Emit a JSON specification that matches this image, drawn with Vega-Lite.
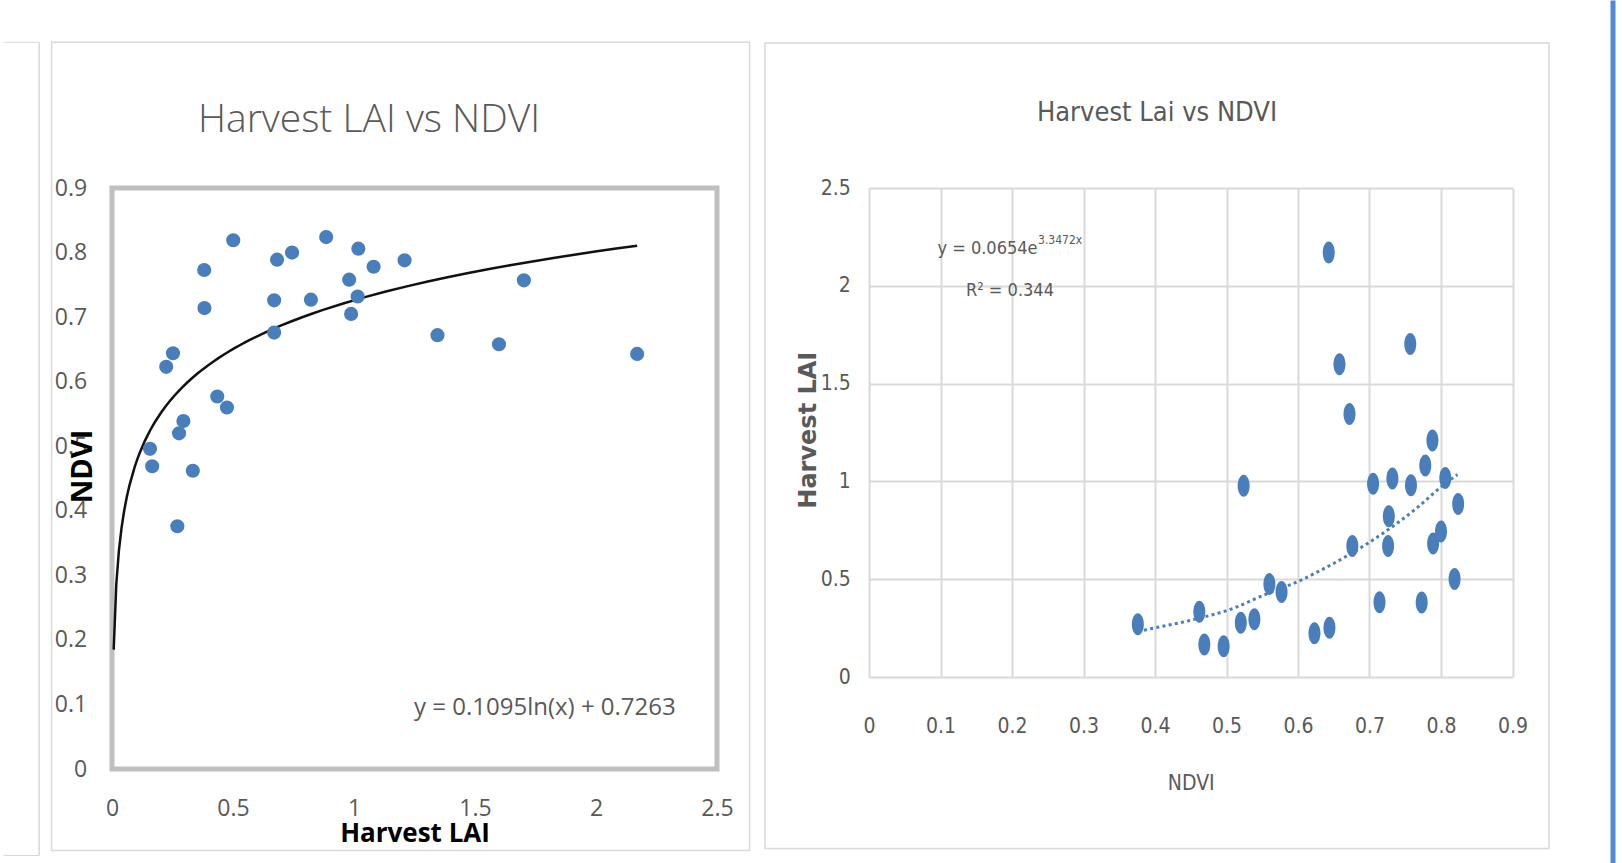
{
  "$schema": "https://vega.github.io/schema/vega-lite/v6.json",
  "background": "white",
  "padding": {"left": 0, "top": 0, "right": 0, "bottom": 0},
  "autosize": {"type": "pad"},
  "bounds": "flush",
  "spacing": 152,
  "config": {"view": {"stroke": null}, "font": "Open Sans"},
  "datasets": {
    "pts": [
      {"LAI": 0.501, "NDVI": 0.819, "left": true},
      {"LAI": 0.885, "NDVI": 0.824, "left": true},
      {"LAI": 1.018, "NDVI": 0.806, "left": true},
      {"LAI": 0.744, "NDVI": 0.800, "left": true},
      {"LAI": 0.682, "NDVI": 0.789, "left": true},
      {"LAI": 1.209, "NDVI": 0.788, "left": true},
      {"LAI": 1.081, "NDVI": 0.778, "left": true},
      {"LAI": 0.381, "NDVI": 0.773, "left": true},
      {"LAI": 0.980, "NDVI": 0.758, "left": true},
      {"LAI": 1.015, "NDVI": 0.732, "left": true},
      {"LAI": 0.670, "NDVI": 0.726, "left": true},
      {"LAI": 0.822, "NDVI": 0.727, "left": true},
      {"LAI": 0.382, "NDVI": 0.714, "left": true},
      {"LAI": 0.988, "NDVI": 0.705, "left": true},
      {"LAI": 0.670, "NDVI": 0.676, "left": true},
      {"LAI": 1.345, "NDVI": 0.672, "left": true},
      {"LAI": 1.599, "NDVI": 0.658, "left": true},
      {"LAI": 1.702, "NDVI": 0.757, "left": true},
      {"LAI": 2.170, "NDVI": 0.643, "left": true},
      {"LAI": 0.252, "NDVI": 0.644, "left": true},
      {"LAI": 0.224, "NDVI": 0.623, "left": true},
      {"LAI": 0.435, "NDVI": 0.577, "left": true},
      {"LAI": 0.475, "NDVI": 0.560, "left": true},
      {"LAI": 0.295, "NDVI": 0.539, "left": true},
      {"LAI": 0.277, "NDVI": 0.520, "left": true},
      {"LAI": 0.157, "NDVI": 0.496, "left": true},
      {"LAI": 0.166, "NDVI": 0.469, "left": true},
      {"LAI": 0.334, "NDVI": 0.462, "left": true},
      {"LAI": 0.270, "NDVI": 0.376, "left": true},
      {"LAI": 0.978, "NDVI": 0.524, "left": false}
    ],
    "expTrend": [
      {"NDVI": 0.376, "LAI": 0.232},
      {"NDVI": 0.383, "LAI": 0.238},
      {"NDVI": 0.4485, "LAI": 0.289},
      {"NDVI": 0.5137, "LAI": 0.357},
      {"NDVI": 0.5464, "LAI": 0.410},
      {"NDVI": 0.607, "LAI": 0.500},
      {"NDVI": 0.6256, "LAI": 0.534},
      {"NDVI": 0.6723, "LAI": 0.627},
      {"NDVI": 0.7189, "LAI": 0.735},
      {"NDVI": 0.7655, "LAI": 0.862},
      {"NDVI": 0.8028, "LAI": 0.980},
      {"NDVI": 0.823, "LAI": 1.035}
    ]
  },
  "hconcat": [
    {
      "width": 605,
      "height": 581,
      "view": {"stroke": "#bfbfbf", "strokeWidth": 5},
      "layer": [
        {
          "data": {"values": [{}]},
          "mark": {"type": "rect", "filled": false, "color": "#d9d9d9", "strokeWidth": 1.5},
          "encoding": {
            "x": {"datum": -0.2496, "type": "quantitative"},
            "x2": {"datum": 2.6347},
            "y": {"datum": 1.1258, "type": "quantitative"},
            "y2": {"datum": -0.1262}
          }
        },
        {
          "data": {"values": [{}]},
          "mark": {"type": "rule", "color": "#d9d9d9", "strokeWidth": 1.5},
          "encoding": {
            "x": {"datum": -0.3008, "type": "quantitative"},
            "y": {"datum": 1.1258, "type": "quantitative"},
            "y2": {"datum": -0.134}
          }
        },
        {
          "data": {"values": [{}]},
          "mark": {"type": "rule", "color": "#d9d9d9", "strokeWidth": 1},
          "encoding": {
            "x": {"datum": -0.44835, "type": "quantitative"},
            "x2": {"datum": -0.3008},
            "y": {"datum": 1.1258, "type": "quantitative"}
          }
        },
        {
          "data": {"values": [{}]},
          "mark": {"type": "rule", "color": "#d9d9d9", "strokeWidth": 1},
          "encoding": {
            "x": {"datum": -0.44835, "type": "quantitative"},
            "x2": {"datum": -0.3008},
            "y": {"datum": -0.134, "type": "quantitative"}
          }
        },
        {
          "data": {"values": [{}]},
          "mark": {"type": "text", "font": "Open Sans", "fontSize": 39, "fontWeight": 300, "color": "#595959", "align": "center", "baseline": "alphabetic"},
          "encoding": {
            "x": {"datum": 1.062, "type": "quantitative"},
            "y": {"datum": 0.9875, "type": "quantitative"},
            "text": {"value": "Harvest LAI vs NDVI"}
          }
        },
        {
          "data": {"values": [{}]},
          "mark": {"type": "text", "font": "Open Sans", "fontSize": 24, "color": "#595959", "align": "left", "baseline": "alphabetic"},
          "encoding": {
            "x": {"datum": 1.248, "type": "quantitative"},
            "y": {"datum": 0.0829, "type": "quantitative"},
            "text": {"value": "y = 0.1095ln(x) + 0.7263"}
          }
        },
        {
          "data": {"name": "pts"},
          "transform": [
            {"filter": "datum.left"},
            {"regression": "NDVI", "on": "LAI", "method": "log", "extent": [0.007, 2.17]}
          ],
          "mark": {"type": "line", "color": "#111111", "strokeWidth": 2.5},
          "encoding": {
            "x": {"field": "LAI", "type": "quantitative"},
            "y": {"field": "NDVI", "type": "quantitative"}
          }
        },
        {
          "data": {"name": "pts"},
          "transform": [{"filter": "datum.left"}],
          "mark": {"type": "circle", "size": 200, "color": "#4a7ebb", "opacity": 1},
          "encoding": {
            "x": {
              "field": "LAI", "type": "quantitative",
              "scale": {"domain": [0, 2.5], "nice": false, "zero": false},
              "axis": {
                "title": "Harvest LAI", "values": [0, 0.5, 1, 1.5, 2, 2.5], "format": "~g",
                "domain": false, "ticks": false, "tickSize": 0, "grid": false,
                "labelFont": "Open Sans", "labelFontSize": 23, "labelColor": "#595959",
                "labelBaseline": "alphabetic", "labelPadding": 46.5, "labelFlush": false, "labelOverlap": false,
                "titleFont": "Open Sans", "titleFontWeight": "bold", "titleFontSize": 26, "titleColor": "#000000",
                "titleBaseline": "alphabetic", "titleAlign": "center", "titleX": 302.5, "titleY": 72
              }
            },
            "y": {
              "field": "NDVI", "type": "quantitative",
              "scale": {"domain": [0, 0.9], "nice": false, "zero": false},
              "axis": {
                "title": "NDVI", "values": [0, 0.1, 0.2, 0.3, 0.4, 0.5, 0.6, 0.7, 0.8, 0.9], "format": "~g",
                "domain": false, "ticks": false, "tickSize": 0, "grid": false,
                "labelFont": "Open Sans", "labelFontSize": 23, "labelColor": "#595959",
                "labelBaseline": "middle", "labelPadding": 25.3, "labelFlush": false, "labelOverlap": false,
                "titleFont": "Open Sans", "titleFontWeight": "bold", "titleFontSize": 29, "titleColor": "#000000",
                "titleBaseline": "alphabetic", "titleAlign": "center", "titleAngle": 270, "titleX": -21, "titleY": 278
              }
            }
          }
        }
      ]
    },
    {
      "width": 643.5,
      "height": 489,
      "layer": [
        {
          "data": {"values": [{}]},
          "mark": {"type": "rect", "filled": false, "color": "#d9d9d9", "strokeWidth": 1.5},
          "encoding": {
            "x": {"datum": -0.14545, "type": "quantitative"},
            "x2": {"datum": 0.95105},
            "y": {"datum": 3.2413, "type": "quantitative"},
            "y2": {"datum": -0.8768}
          }
        },
        {
          "data": {"values": [{}]},
          "mark": {"type": "rect", "color": "#5089d8"},
          "encoding": {
            "x": {"datum": 1.03706, "type": "quantitative"},
            "x2": {"datum": 1.04406},
            "y": {"datum": 3.45859, "type": "quantitative"},
            "y2": {"datum": -0.95348}
          }
        },
        {
          "data": {"values": [{}]},
          "mark": {"type": "text", "font": "DejaVu Sans Condensed, Roboto Condensed, Liberation Sans Narrow, Roboto", "fontSize": 27, "color": "#595959", "align": "center", "baseline": "alphabetic"},
          "encoding": {
            "x": {"datum": 0.4028, "type": "quantitative"},
            "y": {"datum": 2.84, "type": "quantitative"},
            "text": {"value": "Harvest Lai vs NDVI"}
          }
        },
        {
          "data": {"values": [{}]},
          "mark": {"type": "text", "font": "DejaVu Sans Condensed, Roboto Condensed, Liberation Sans Narrow, Roboto", "fontSize": 18, "color": "#595959", "align": "left", "baseline": "alphabetic"},
          "encoding": {
            "x": {"datum": 0.0958, "type": "quantitative"},
            "y": {"datum": 2.1651, "type": "quantitative"},
            "text": {"value": "y = 0.0654e"}
          }
        },
        {
          "data": {"values": [{}]},
          "mark": {"type": "text", "font": "DejaVu Sans Condensed, Roboto Condensed, Liberation Sans Narrow, Roboto", "fontSize": 12, "color": "#595959", "align": "left", "baseline": "alphabetic"},
          "encoding": {
            "x": {"datum": 0.2364, "type": "quantitative"},
            "y": {"datum": 2.2112, "type": "quantitative"},
            "text": {"value": "3.3472x"}
          }
        },
        {
          "data": {"values": [{}]},
          "mark": {"type": "text", "font": "DejaVu Sans Condensed, Roboto Condensed, Liberation Sans Narrow, Roboto", "fontSize": 18, "color": "#595959", "align": "left", "baseline": "alphabetic"},
          "encoding": {
            "x": {"datum": 0.13566, "type": "quantitative"},
            "y": {"datum": 1.9453, "type": "quantitative"},
            "text": {"value": "R² = 0.344"}
          }
        },
        {
          "data": {"name": "expTrend"},
          "mark": {"type": "line", "color": "#4a7ebb", "strokeWidth": 3, "strokeDash": [3, 3.3], "interpolate": "monotone"},
          "encoding": {
            "x": {"field": "NDVI", "type": "quantitative"},
            "y": {"field": "LAI", "type": "quantitative"}
          }
        },
        {
          "data": {"name": "pts"},
          "mark": {"type": "point", "shape": "M-0.545,0A0.545,1 0 1,0 0.545,0A0.545,1 0 1,0 -0.545,0Z", "filled": true, "size": 484, "color": "#4a7ebb", "opacity": 1},
          "encoding": {
            "x": {
              "field": "NDVI", "type": "quantitative",
              "scale": {"domain": [0, 0.9], "nice": false, "zero": false},
              "axis": {
                "title": "NDVI", "values": [0, 0.1, 0.2, 0.3, 0.4, 0.5, 0.6, 0.7, 0.8, 0.9], "format": "~g",
                "domain": false, "ticks": false, "tickSize": 0,
                "grid": true, "gridColor": "#d9d9d9", "gridWidth": 2,
                "labelFont": "DejaVu Sans Condensed, Roboto Condensed, Liberation Sans Narrow, Roboto", "labelFontSize": 21, "labelColor": "#595959",
                "labelBaseline": "alphabetic", "labelPadding": 55.5, "labelFlush": false, "labelOverlap": false,
                "titleFont": "DejaVu Sans Condensed, Roboto Condensed, Liberation Sans Narrow, Roboto", "titleFontWeight": "normal", "titleFontSize": 21, "titleColor": "#595959",
                "titleBaseline": "alphabetic", "titleAlign": "center", "titleX": 321.75, "titleY": 112.5
              }
            },
            "y": {
              "field": "LAI", "type": "quantitative",
              "scale": {"domain": [0, 2.5], "nice": false, "zero": false},
              "axis": {
                "title": "Harvest  LAI", "values": [0, 0.5, 1, 1.5, 2, 2.5], "format": "~g",
                "domain": false, "ticks": false, "tickSize": 0,
                "grid": true, "gridColor": "#d9d9d9", "gridWidth": 2,
                "labelFont": "DejaVu Sans Condensed, Roboto Condensed, Liberation Sans Narrow, Roboto", "labelFontSize": 21, "labelColor": "#595959",
                "labelBaseline": "middle", "labelPadding": 18.7, "labelFlush": false, "labelOverlap": false,
                "titleFont": "DejaVu Sans", "titleFontWeight": "bold", "titleFontSize": 24, "titleColor": "#595959",
                "titleBaseline": "alphabetic", "titleAlign": "center", "titleAngle": 270, "titleX": -53.6, "titleY": 241.7
              }
            }
          }
        }
      ]
    }
  ]
}
